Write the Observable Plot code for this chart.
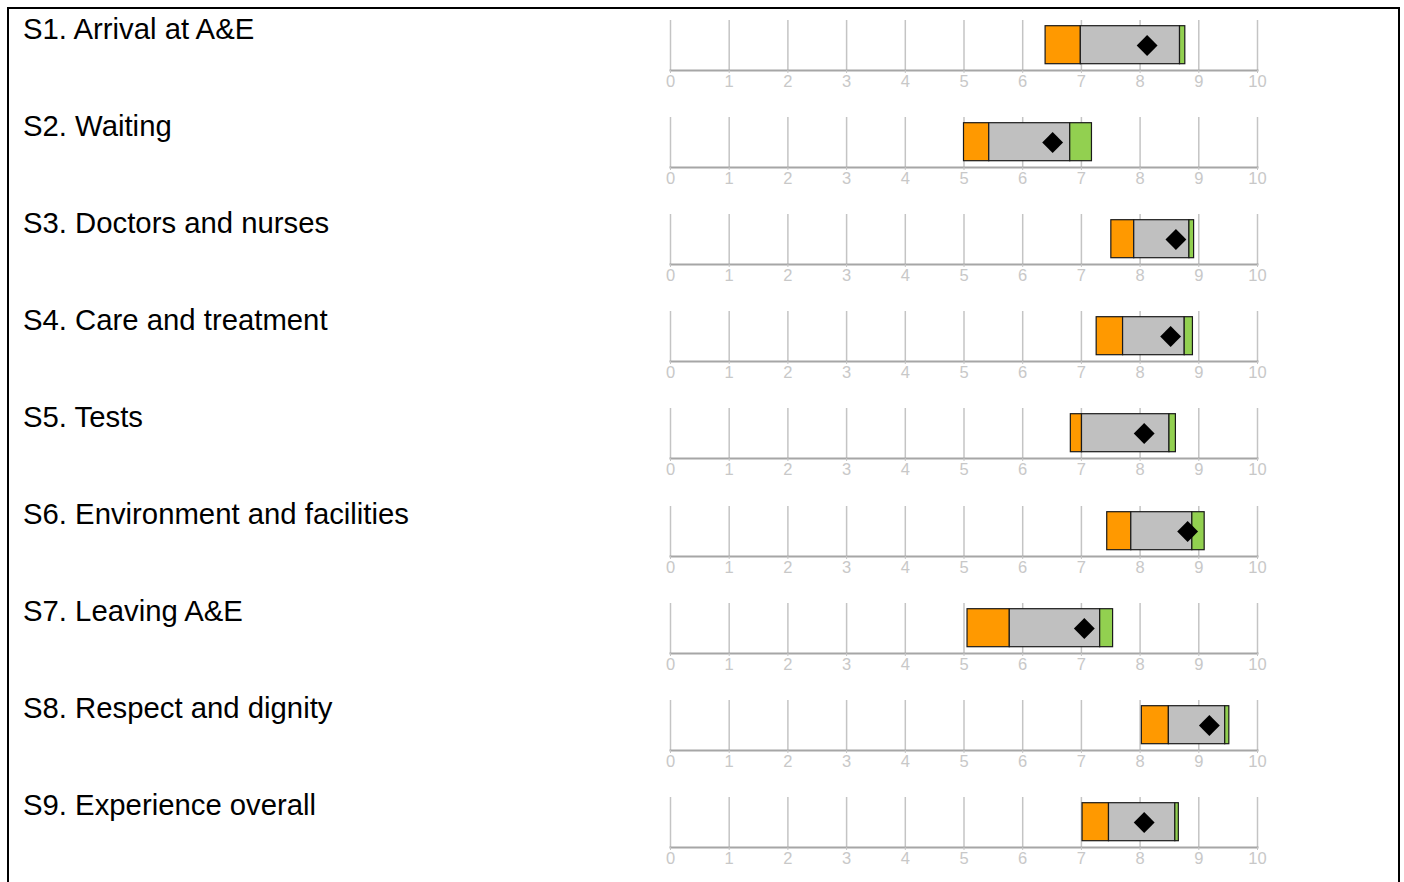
<!DOCTYPE html>
<html>
<head>
<meta charset="utf-8">
<script src="https://cdn.jsdelivr.net/npm/d3@7"></script>
<script src="https://cdn.jsdelivr.net/npm/@observablehq/plot@0.6"></script>
<style>
  html, body { margin: 0; padding: 0; background: #fff; }
  body { width: 1404px; height: 882px; overflow: hidden; position: relative; font-family: "Liberation Sans", Arial, sans-serif; }
  #frame { position: absolute; left: 7px; top: 7px; width: 1393px; height: 900px; border: 2px solid #000; box-sizing: border-box; }
  .row { position: absolute; left: 0; width: 1404px; height: 97px; }
  .label { position: absolute; left: 23px; top: 4.5px; font-size: 29.3px; color: #000; white-space: nowrap; }
  .row svg { position: absolute; left: 0; top: 0; }
</style>
</head>
<body>
<div id="frame"></div>
<div id="rows"></div>
<script>
const categories = [
  "S1. Arrival at A&E",
  "S2. Waiting",
  "S3. Doctors and nurses",
  "S4. Care and treatment",
  "S5. Tests",
  "S6. Environment and facilities",
  "S7. Leaving A&E",
  "S8. Respect and dignity",
  "S9. Experience overall"
];
// lower threshold (start of orange), orange/grey boundary, grey/green boundary, upper end (end of green)
const lowStart   = [6.39, 5.00, 7.51, 7.26, 6.82, 7.44, 5.06, 8.03, 7.02];
const lowEnd     = [6.99, 5.43, 7.90, 7.71, 7.01, 7.85, 5.78, 8.49, 7.47];
const highStart  = [8.68, 6.81, 8.84, 8.76, 8.50, 8.89, 7.32, 9.45, 8.60];
const highEnd    = [8.77, 7.18, 8.92, 8.90, 8.61, 9.10, 7.54, 9.52, 8.66];
const scores     = [8.12, 6.51, 8.61, 8.52, 8.07, 8.81, 7.05, 9.18, 8.07];
const xTicks     = [0, 1, 2, 3, 4, 5, 6, 7, 8, 9, 10];

const segColors = { low: "#FF9900", mid: "#C0C0C0", high: "#92D050" };

const rowsEl = document.getElementById("rows");
const rowPitch = 97.1;

categories.forEach((cat, i) => {
  const segs = [
    { x1: lowStart[i], x2: lowEnd[i], band: "low" },
    { x1: lowEnd[i], x2: highStart[i], band: "mid" },
    { x1: highStart[i], x2: highEnd[i], band: "high" }
  ];
  const row = document.createElement("div");
  row.className = "row";
  row.style.top = (7 + i * rowPitch) + "px";
  const lab = document.createElement("div");
  lab.className = "label";
  lab.textContent = cat;
  row.appendChild(lab);

  const chart = Plot.plot({
    width: 1404,
    height: 97,
    marginLeft: 670,
    marginRight: 147,
    marginTop: 13,
    marginBottom: 34,
    style: { background: "transparent", overflow: "visible" },
    x: { domain: [0, 10], axis: null },
    color: { domain: ["low", "mid", "high"], range: [segColors.low, segColors.mid, segColors.high] },
    marks: [
      Plot.ruleX(xTicks, { x: d => d, stroke: "#c4c4c4", strokeWidth: 1.5 }),
      Plot.frame({ anchor: "bottom", stroke: "#a6a6a6", strokeWidth: 2 }),
      Plot.axisX(xTicks, {
        anchor: "bottom",
        tickSize: 3,
        tickPadding: 2,
        stroke: "#c4c4c4",
        fill: "#c8c8c8",
        fontSize: 16.5,
        fontFamily: "Liberation Sans, Arial, sans-serif",
        label: null,
        tickFormat: d => String(d)
      }),
      Plot.rectX(segs, {
        x1: "x1", x2: "x2", fill: "band",
        stroke: "#1a1a1a", strokeWidth: 1.2,
        insetTop: 5.7, insetBottom: 6.3
      }),
      Plot.dot([scores[i]], { x: d => d, symbol: "diamond2", r: 9.4, fill: "#000", stroke: "none" })
    ]
  });
  row.appendChild(chart);
  rowsEl.appendChild(row);
});
</script>
</body>
</html>
